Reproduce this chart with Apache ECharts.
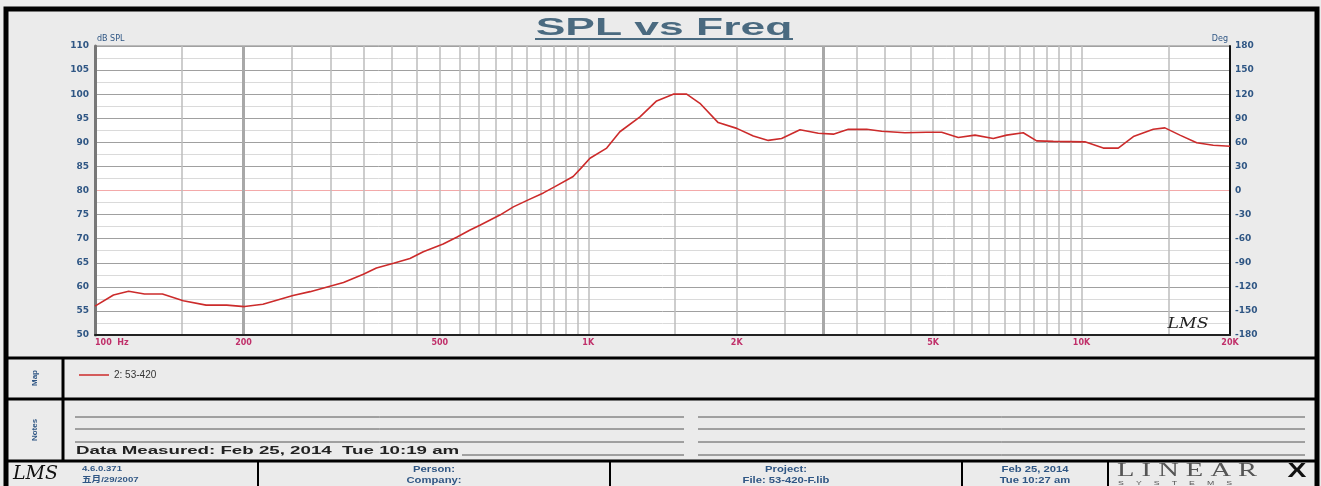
<!DOCTYPE html>
<html>
<head>
<meta charset="utf-8">
<script src="https://cdn.jsdelivr.net/npm/echarts@6/dist/echarts.min.js"></script>
<style>
html, body { margin: 0; padding: 0; background: #ebebeb; }
#chart { width: 1321px; height: 486px; }
</style>
</head>
<body>
<div id="chart"></div>
<script>
// frequency response (Hz, dB SPL)
var freqs = [100, 109, 117, 126, 137, 151, 168, 185, 201, 219, 252, 273, 319, 350, 372, 403, 435, 463,
    508, 541, 576, 603, 662, 705, 750, 811, 856, 932, 970, 1008, 1090, 1159, 1273, 1376, 1487, 1583,
    1684, 1834, 2000, 2161, 2317, 2466, 2687, 2927, 3139, 3367, 3668, 3935, 4386, 4853, 5206, 5626,
    6082, 6624, 7051, 7618, 8110, 8766, 10160, 11070, 11870, 12740, 13980, 14760, 15830, 17120, 18500, 20000];
var spl = [56.0, 58.3, 59.1, 58.5, 58.5, 57.1, 56.2, 56.2, 55.9, 56.4, 58.2, 59.0, 60.9, 62.6, 63.9, 64.9, 65.9, 67.3,
    68.9, 70.3, 71.8, 72.8, 74.9, 76.6, 77.9, 79.5, 80.8, 82.9, 84.8, 86.7, 88.8, 92.2, 95.3, 98.6, 100.0, 100.0,
    98.1, 94.1, 92.9, 91.3, 90.4, 90.8, 92.6, 91.9, 91.7, 92.7, 92.7, 92.3, 92.0, 92.1, 92.1, 91.0,
    91.5, 90.8, 91.5, 92.0, 90.3, 90.2, 90.1, 88.8, 88.8, 91.2, 92.7, 93.0, 91.5, 89.9, 89.4, 89.2];

var freqLabels = [100, 200, 500, 1000, 2000, 5000, 10000, 20000];
var freqLabelText = ['100  Hz', '200', '500', '1K', '2K', '5K', '10K', '20K'];
var darkGridFreqs = [200, 3000];
var zeroDegLine = [80];   // 0 deg reference on the dB scale
var seriesName = '2: 53-420';

// vertical grid: 50 Hz steps to 1K, 500 Hz steps to 10K, then 15K
var gridFreqs = [];
for (var f = 150; f <= 1000; f += 50) gridFreqs.push(f);
for (var f2 = 1500; f2 <= 10000; f2 += 500) gridFreqs.push(f2);
gridFreqs.push(15000);

var points = freqs.map(function (fr, i) { return [fr, spl[i]]; });

var blue = '#2f5684';
var chart = echarts.init(document.getElementById('chart'));

function txt(x, y, text, opt) {
    opt = opt || {};
    return {
        type: 'text', x: x, y: y, z: 100,
        rotation: opt.rotation || 0,
        scaleX: opt.scaleX || 1,
        style: {
            text: text,
            x: 0, y: 0,
            fill: opt.color || blue,
            font: opt.font || 'bold 9px "Liberation Sans", sans-serif',
            textAlign: opt.align || 'left',
            textVerticalAlign: 'middle'
        }
    };
}
function ln(x1, y1, x2, y2, w, c) {
    return {
        type: 'line', z: 100,
        shape: { x1: x1, y1: y1, x2: x2, y2: y2 },
        style: { stroke: c || '#000', lineWidth: w || 1 }
    };
}

var graphics = [
    // outer frame
    { type: 'rect', z: 100, shape: { x: 6, y: 9, width: 1311, height: 490 },
      style: { fill: 'none', stroke: '#000', lineWidth: 5 } },
    // title + underline
    txt(664, 28, 'SPL vs Freq', { font: 'bold 24px "Liberation Sans", sans-serif', color: '#4a6a80', align: 'center', scaleX: 1.85 }),
    ln(535, 39, 793, 39, 2, '#4a6a80'),
    // LMS mark in plot
    txt(1188, 324, 'LMS', { font: 'italic 15px "DejaVu Serif", serif', color: '#222', align: 'center', scaleX: 1.15 }),
    // section separators
    ln(6, 358, 1317, 358, 3),
    ln(6, 399, 1317, 399, 3),
    ln(6, 461, 1317, 461, 3),
    ln(63, 358, 63, 461, 3),
    ln(258, 461, 258, 486, 2),
    ln(610, 461, 610, 486, 2),
    ln(962, 461, 962, 486, 2),
    ln(1108, 461, 1108, 486, 2),
    // side labels
    txt(35, 378, 'Map', { rotation: Math.PI / 2, align: 'center', font: 'bold 8px "Liberation Sans", sans-serif' }),
    txt(35, 430, 'Notes', { rotation: Math.PI / 2, align: 'center', font: 'bold 8px "Liberation Sans", sans-serif' }),
    // notes lines
    ln(75, 417, 684, 417, 1, '#555'), ln(698, 417, 1305, 417, 1, '#555'),
    ln(75, 429, 684, 429, 1, '#555'), ln(698, 429, 1305, 429, 1, '#555'),
    ln(75, 442, 684, 442, 1, '#555'), ln(698, 442, 1305, 442, 1, '#555'),
    ln(462, 455, 684, 455, 1, '#555'), ln(698, 455, 1305, 455, 1, '#555'),
    txt(76, 451, 'Data Measured: Feb 25, 2014  Tue 10:19 am', { font: 'bold 11px "Liberation Sans", sans-serif', color: '#222', scaleX: 1.7 }),
    // footer
    txt(13, 474, 'LMS', { font: 'italic 19px "DejaVu Serif", serif', color: '#111', scaleX: 1.0 }),
    txt(82, 469, '4.6.0.371', { font: 'bold 8px "Liberation Sans", sans-serif', scaleX: 1.2 }),
    txt(82, 480, '五月/29/2007', { font: 'bold 8px "Liberation Sans", "Noto Sans CJK SC", sans-serif', scaleX: 1.2 }),
    txt(434, 470, 'Person:', { align: 'center', scaleX: 1.25 }),
    txt(434, 481, 'Company:', { align: 'center', scaleX: 1.25 }),
    txt(786, 470, 'Project:', { align: 'center', scaleX: 1.25 }),
    txt(786, 481, 'File: 53-420-F.lib', { align: 'center', scaleX: 1.25 }),
    txt(1035, 470, 'Feb 25, 2014', { align: 'center', scaleX: 1.25 }),
    txt(1035, 481, 'Tue 10:27 am', { align: 'center', scaleX: 1.25 }),
    txt(1117, 471, 'L I N E A R', { font: '19px "Liberation Serif", serif', color: '#555', scaleX: 1.5 }),
    txt(1297, 471, 'X', { font: 'bold 21px "Liberation Sans", sans-serif', color: '#111', align: 'center', scaleX: 1.35 }),
    txt(1118, 483, 'S     Y     S     T     E     M     S', { font: '6px "Liberation Sans", sans-serif', color: '#555', scaleX: 1.45 })
];

var option = {
    backgroundColor: '#ebebeb',
    animation: false,
    grid: {
        left: 95, right: 91, top: 46, bottom: 151,
        show: true, backgroundColor: '#fff', borderColor: '#888', borderWidth: 1
    },
    legend: {
        data: [seriesName],
        left: 74, top: 365,
        icon: 'rect',
        itemWidth: 30, itemHeight: 1.5,
        textStyle: { fontSize: 10, color: '#333', fontFamily: 'Liberation Sans' }
    },
    xAxis: [{
        type: 'log', logBase: 10, min: 100, max: 20000,
        axisLine: { onZero: false, lineStyle: { color: '#222', width: 2 } },
        axisTick: { show: false, customValues: gridFreqs.concat([100, 20000]) },
        splitLine: { show: true, lineStyle: { color: '#bcbcbc', width: 1.5 } },
        minorSplitLine: { show: false },
        axisLabel: {
            customValues: freqLabels,
            alignMinLabel: 'left',
            margin: 4,
            color: '#c0306a', fontSize: 8, fontWeight: 'bold', fontFamily: 'DejaVu Sans',
            formatter: function (v) {
                var i = freqLabels.indexOf(Math.round(v));
                return i >= 0 ? freqLabelText[i] : '';
            }
        }
    }, {
        type: 'log', logBase: 10, min: 100, max: 20000, position: 'top',
        axisLine: { show: false, onZero: false }, axisLabel: { show: false },
        axisTick: { show: false, customValues: darkGridFreqs },
        splitLine: { show: true, lineStyle: { color: '#a8a8a8', width: 3 } }
    }],
    yAxis: [{
        type: 'value', min: 50, max: 110, interval: 5,
        name: 'dB SPL', nameLocation: 'end', nameGap: 3,
        nameTextStyle: { align: 'left', fontSize: 8, color: blue, fontFamily: 'DejaVu Sans', padding: [0, 0, 0, 2] },
        axisLine: { show: true, lineStyle: { color: '#777', width: 3 } },
        axisTick: { show: false },
        axisLabel: { color: blue, fontSize: 9, fontWeight: 'bold', fontFamily: 'DejaVu Sans', margin: 6 },
        splitLine: { show: true, lineStyle: { color: '#a0a0a0', width: 1 } },
        minorTick: { show: false, splitNumber: 2 },
        minorSplitLine: { show: true, lineStyle: { color: '#dadada', width: 1 } }
    }, {
        type: 'value', min: -180, max: 180, interval: 30, position: 'right',
        name: 'Deg', nameLocation: 'end', nameGap: 3,
        nameTextStyle: { align: 'right', fontSize: 8, color: blue, fontFamily: 'DejaVu Sans', padding: [0, 2, 0, 0] },
        axisLine: { show: true, lineStyle: { color: '#111', width: 2 } },
        axisTick: { show: false },
        axisLabel: { color: blue, fontSize: 9, fontWeight: 'bold', fontFamily: 'DejaVu Sans', margin: 5 },
        splitLine: { show: false }
    }, {
        // pink 0-deg reference line
        type: 'value', min: 50, max: 110, position: 'left',
        axisLine: { show: false }, axisLabel: { show: false },
        axisTick: { show: false, customValues: zeroDegLine },
        splitLine: { show: true, lineStyle: { color: '#f3a9a9', width: 1 } }
    }],
    series: [{
        name: seriesName,
        type: 'line',
        data: points,
        symbol: 'none',
        smooth: false,
        lineStyle: { color: '#cc2b2b', width: 1.6 },
        itemStyle: { color: '#cc2b2b' },
        z: 3
    }],
    graphic: graphics
};
chart.setOption(option);
</script>
</body>
</html>
